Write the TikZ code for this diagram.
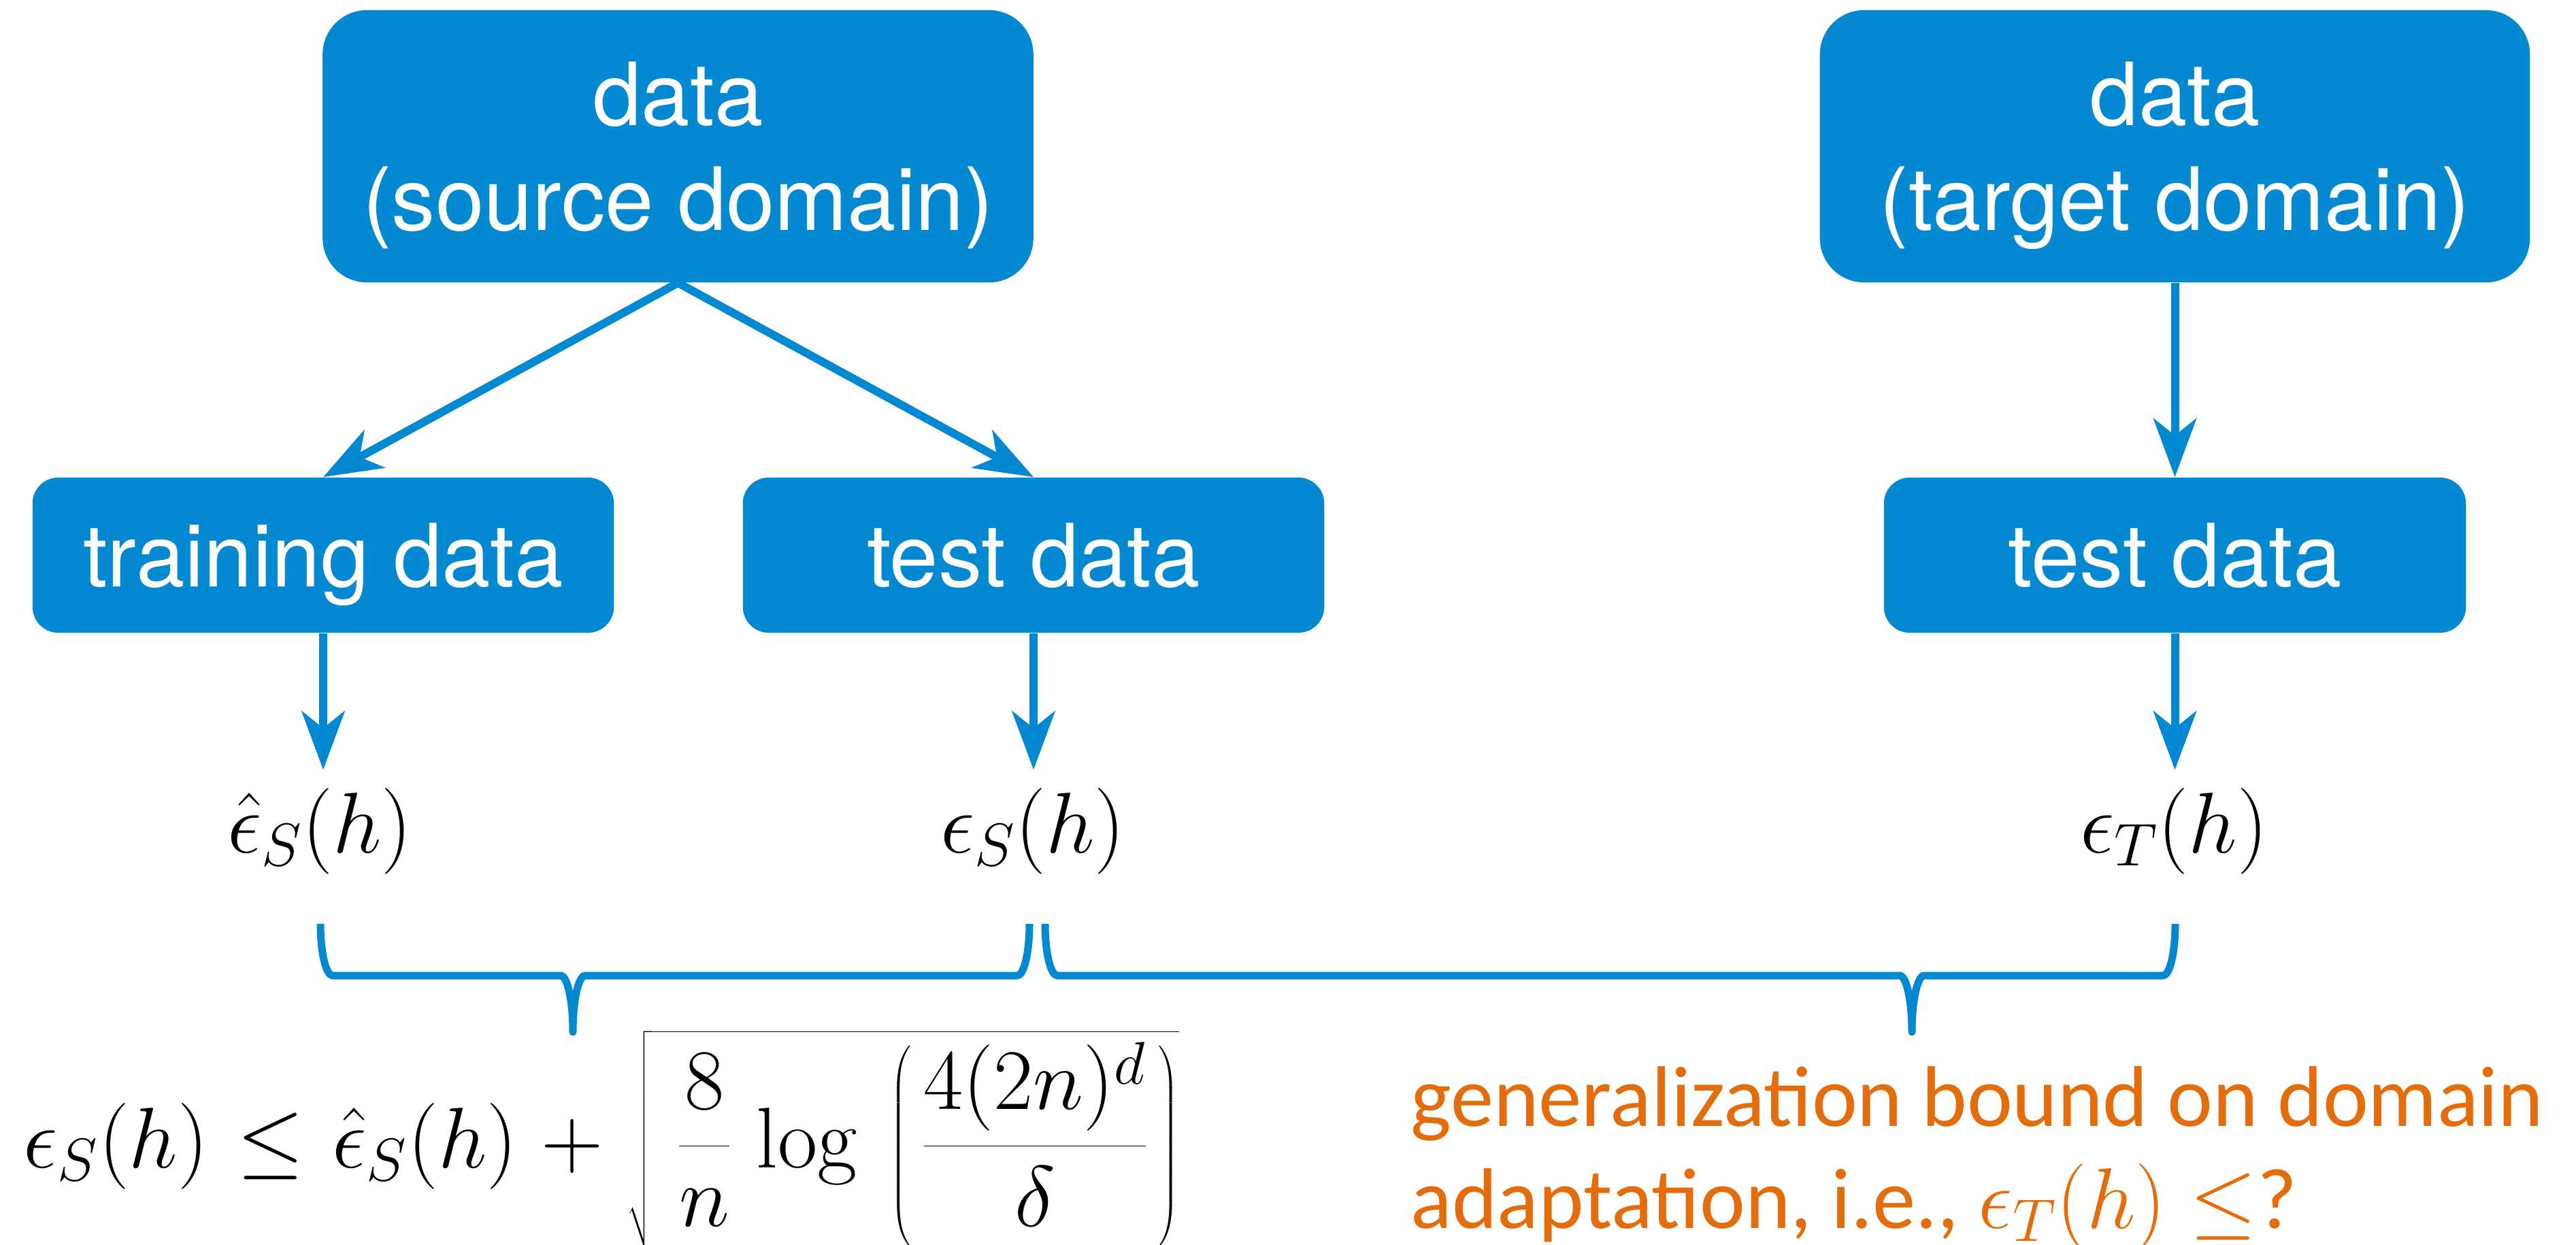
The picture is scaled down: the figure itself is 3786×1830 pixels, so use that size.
\RequirePackage{fix-cm}
\documentclass[tikz,border=0pt]{standalone}
\usepackage{fontspec}
\newfontfamily\boxfont{TeX Gyre Heros}
\newfontfamily\notefont{Carlito}
\usetikzlibrary{arrows.meta}
\definecolor{boxblue}{RGB}{2,137,209}
\definecolor{noteorange}{RGB}{228,108,10}

% one horizontal curly brace: left end, tip, right end (x), drawn downwards
\newcommand\bracepath[3]{%
  (#1,1358) .. controls (#1,1400) and (#1+8,1434) .. (#1+18,1434)
  -- (#2-18,1434) .. controls (#2-8,1434) and (#2,1471) .. (#2,1517)
  .. controls (#2,1471) and (#2+8,1434) .. (#2+18,1434)
  -- (#3-18,1434) .. controls (#3-8,1434) and (#3,1400) .. (#3,1358)}

\begin{document}
\begin{tikzpicture}[x=0.01cm,y=-0.01cm,
  bigbox/.style={fill=boxblue, draw=none, rounded corners=0.65cm,
    minimum width=10.44cm, minimum height=4cm, inner sep=0pt},
  smallbox/.style={fill=boxblue, draw=none, rounded corners=0.38cm,
    minimum width=8.54cm, minimum height=2.28cm, inner sep=0pt,
    text=white, font=\boxfont\fontsize{36.5}{43.8}\selectfont,
    text height=0.92cm, text depth=0cm},
  boxtext/.style={text=white, inner sep=0pt,
    font=\boxfont\fontsize{36.5}{43.8}\selectfont},
  lbl/.style={inner sep=0.26cm, font=\fontsize{36}{42}\selectfont},
  note/.style={inner sep=0pt, text=noteorange,
    font=\notefont\fontsize{36}{43}\selectfont},
  arr/.style={draw=boxblue, line width=0.12cm,
    -{Stealth[length=0.86cm, width=0.63cm, inset=0.25cm]}},
  bracestyle/.style={draw=boxblue, line width=0.11cm, line join=round}]

\path[use as bounding box] (0,0) rectangle (3786,1830);

% source domain
\node[bigbox] (src) at (996.5,215) {};
\node[boxtext, anchor=base] (srcA) at (996.5,184) {data};
\node[boxtext, anchor=base] (srcB) at (996.5,338) {(source domain)};

% target domain
\node[bigbox, minimum width=10.43cm] (tgt) at (3196.5,215) {};
\node[boxtext, anchor=base] (tgtA) at (3196.5,184) {data};
\node[boxtext, anchor=base] (tgtB) at (3196.5,338) {(target domain)};

% data splits
\node[smallbox] (train) at (475,816) {training data};
\node[smallbox] (testS) at (1519,816) {test data};
\node[smallbox, minimum width=8.55cm] (testT) at (3196.5,816) {test data};

% errors
\node[lbl, anchor=base] (eShat) at (470,1253) {$\hat{\epsilon}_S(h)$};
\node[lbl, anchor=base] (eS) at (1518,1253) {$\epsilon_S(h)$};
\node[lbl, anchor=base] (eT) at (3195,1253) {$\epsilon_T(h)$};

% connectors
\draw[arr] (src.south) -- (train.north);
\draw[arr] (src.south) -- (testS.north);
\draw[arr] (tgt.south) -- (testT.north);
\draw[arr] (train.south) -- (train.south |- eShat.north);
\draw[arr] (testS.south) -- (testS.south |- eS.north);
\draw[arr] (testT.south) -- (testT.south |- eT.north);

% braces
\draw[bracestyle] \bracepath{471}{842}{1513};
\draw[bracestyle] \bracepath{1536}{2810}{3197};

% bound for the source domain
\node[anchor=base west, inner sep=0pt, font=\fontsize{36}{43}\selectfont] (bound) at (34,1716)
  {\thickmuskip=6mu plus 2mu\medmuskip=5mu plus 2mu
   $\displaystyle \epsilon_S(h) \leq \hat{\epsilon}_S(h) + \sqrt{\mkern5mu\frac{8}{n}\mkern2mu\log\mkern4mu\left(\mkern2mu\frac{4(2n)^d}{\delta}\mkern2mu\right)}$};

% open question for the target domain
\node[note, anchor=base west] (noteA) at (2073,1655) {generalization bound on domain};
\node[note, anchor=base west] (noteB) at (2073,1805) {adaptation, i.e., $\epsilon_T(h) \leq$?};
\end{tikzpicture}
\end{document}
